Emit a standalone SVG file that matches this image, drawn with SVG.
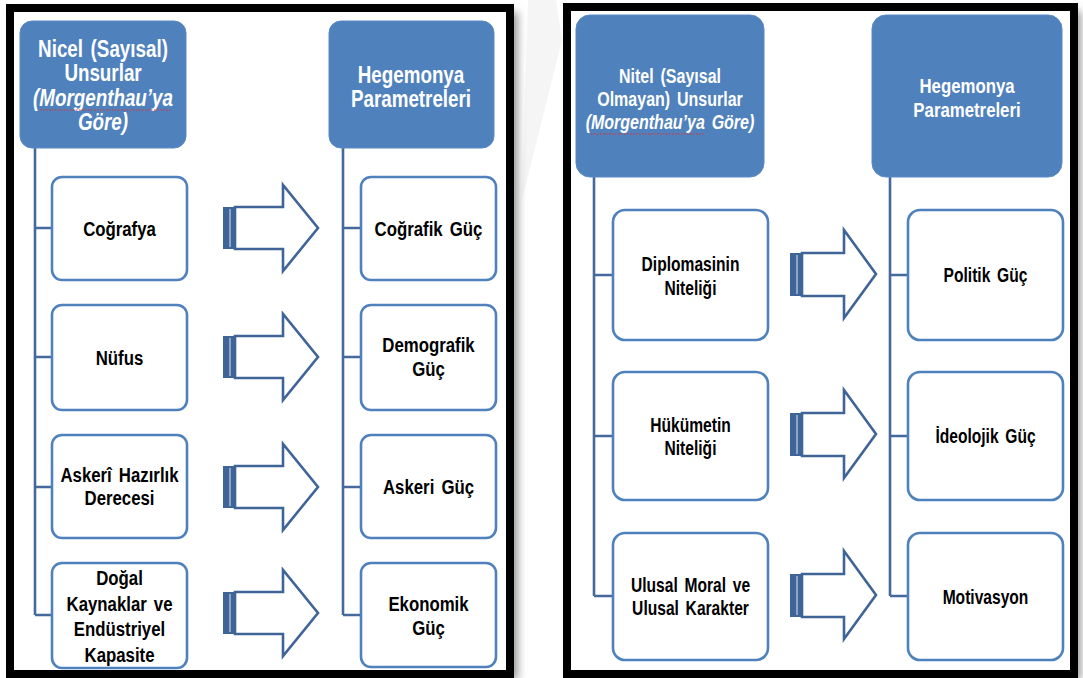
<svg xmlns="http://www.w3.org/2000/svg" width="1083" height="678" viewBox="0 0 1083 678">
<style>
.frame{fill:#fff;stroke:#000;stroke-width:8}
.hdr{fill:#4F81BD;stroke:#5A8AC4;stroke-width:1}
.box{fill:#fff;stroke:#4F81BD;stroke-width:2.6}
.ln{fill:none;stroke:#46699B;stroke-width:2.6}
.arr{fill:#fff;stroke:#3F6598;stroke-width:2.6;stroke-linejoin:miter}
.bar{fill:#3F6598}
.stripe{stroke:#A9BCD6;stroke-width:1.5}
.t{font-family:'Liberation Sans',Arial,sans-serif;font-weight:bold;text-anchor:middle;word-spacing:3px}
.w{fill:#fff}
.k{fill:#000}
.it{font-style:italic}
.sq{fill:none;stroke:#E03030;stroke-width:1;stroke-dasharray:1.5 1.5}
</style>
<defs>
<filter id="sh" x="-5%" y="-5%" width="115%" height="115%">
<feGaussianBlur stdDeviation="4"/>
</filter>
</defs>
<rect width="1083" height="678" fill="#fff"/>
<polygon points="528,0 556,0 562,40 522,200" fill="#F5F5F5"/>
<!-- shadows -->
<rect x="14" y="12" width="504" height="668" fill="#9a9a9a" filter="url(#sh)"/>
<rect x="571" y="11" width="510" height="669" fill="#9a9a9a" filter="url(#sh)"/>
<!-- frames -->
<rect class="frame" x="10" y="8" width="500" height="666"/>
<rect class="frame" x="567" y="7" width="507" height="667"/>

<g id="connectors">
<path class="ln" d="M35,148 V615 M35,228 H52 M35,357 H52 M35,487 H52 M35,615 H52"/>
<path class="ln" d="M343,148 V615 M343,228 H361 M343,357 H361 M343,487 H361 M343,615 H361"/>
<path class="ln" d="M594,177 V596 M594,275 H613 M594,436 H613 M594,596 H613"/>
<path class="ln" d="M890,177 V596 M890,275 H908 M890,436 H908 M890,596 H908"/>
<g id="arrows-left">
<g transform="translate(0,228)"><rect class="bar" x="223" y="-21" width="12" height="42"/><line class="stripe" x1="230" y1="-19" x2="230" y2="19"/><polygon class="arr" points="235,-21 283,-21 283,-43 318,0 283,43 283,21 235,21"/></g>
<g transform="translate(0,357)"><rect class="bar" x="223" y="-21" width="12" height="42"/><line class="stripe" x1="230" y1="-19" x2="230" y2="19"/><polygon class="arr" points="235,-21 283,-21 283,-43 318,0 283,43 283,21 235,21"/></g>
<g transform="translate(0,487)"><rect class="bar" x="223" y="-21" width="12" height="42"/><line class="stripe" x1="230" y1="-19" x2="230" y2="19"/><polygon class="arr" points="235,-21 283,-21 283,-43 318,0 283,43 283,21 235,21"/></g>
<g transform="translate(0,613)"><rect class="bar" x="223" y="-21" width="12" height="42"/><line class="stripe" x1="230" y1="-19" x2="230" y2="19"/><polygon class="arr" points="235,-21 283,-21 283,-43 318,0 283,43 283,21 235,21"/></g>
</g>
<g id="arrows-right">
<g transform="translate(0,274)"><rect class="bar" x="790" y="-21" width="12" height="43"/><line class="stripe" x1="797" y1="-19" x2="797" y2="20"/><polygon class="arr" points="802,-21 844,-21 844,-44 876,0 844,44 844,22 802,22"/></g>
<g transform="translate(0,434)"><rect class="bar" x="790" y="-21" width="12" height="43"/><line class="stripe" x1="797" y1="-19" x2="797" y2="20"/><polygon class="arr" points="802,-21 844,-21 844,-44 876,0 844,44 844,22 802,22"/></g>
<g transform="translate(0,595)"><rect class="bar" x="790" y="-21" width="12" height="43"/><line class="stripe" x1="797" y1="-19" x2="797" y2="20"/><polygon class="arr" points="802,-21 844,-21 844,-44 876,0 844,44 844,22 802,22"/></g>
</g>
</g>

<!-- Left panel -->
<g id="hdr-nicel">
<rect class="hdr" x="20" y="21" width="166" height="127" rx="12"/>
<text class="t w" font-size="23.5" transform="matrix(0.8 0 0 1 103 0)"><tspan x="0" y="57">Nicel (Sayısal)</tspan><tspan x="0" y="81">Unsurlar</tspan><tspan x="0" y="106" class="it">(Morgenthau’ya</tspan><tspan x="0" y="130" class="it">Göre)</tspan></text>
<path class="sq" d="M40,110 H172"/>
</g>
<g id="hdr-hegemonya-1">
<rect class="hdr" x="329" y="21" width="165" height="127" rx="12"/>
<text class="t w" font-size="23.5" transform="matrix(0.8 0 0 1 411 0)"><tspan x="0" y="83">Hegemonya</tspan><tspan x="0" y="107">Parametreleri</tspan></text>
</g>
<g id="n-cografya"><rect class="box" x="52" y="177" width="135" height="103" rx="10"/><text class="t k" font-size="21" transform="matrix(0.8 0 0 1 119.5 0)"><tspan x="0" y="236">Coğrafya</tspan></text></g>
<g id="n-nufus"><rect class="box" x="52" y="305" width="135" height="105" rx="10"/><text class="t k" font-size="21" transform="matrix(0.8 0 0 1 119.5 0)"><tspan x="0" y="365">Nüfus</tspan></text></g>
<g id="n-askeri"><rect class="box" x="52" y="435" width="135" height="103" rx="10"/><text class="t k" font-size="21" transform="matrix(0.8 0 0 1 119.5 0)"><tspan x="0" y="482">Askerî Hazırlık</tspan><tspan x="0" y="505">Derecesi</tspan></text></g>
<g id="n-dogal"><rect class="box" x="52" y="563" width="135" height="105" rx="10"/><text class="t k" font-size="21" transform="matrix(0.8 0 0 1 119.5 0)"><tspan x="0" y="585">Doğal</tspan><tspan x="0" y="611">Kaynaklar ve</tspan><tspan x="0" y="636">Endüstriyel</tspan><tspan x="0" y="662">Kapasite</tspan></text></g>
<g id="n-cografik"><rect class="box" x="361" y="177" width="135" height="103" rx="10"/><text class="t k" font-size="21" transform="matrix(0.8 0 0 1 428.5 0)"><tspan x="0" y="236">Coğrafik Güç</tspan></text></g>
<g id="n-demografik"><rect class="box" x="361" y="305" width="135" height="105" rx="10"/><text class="t k" font-size="21" transform="matrix(0.8 0 0 1 428.5 0)"><tspan x="0" y="352">Demografik</tspan><tspan x="0" y="376">Güç</tspan></text></g>
<g id="n-askerigu"><rect class="box" x="361" y="435" width="135" height="103" rx="10"/><text class="t k" font-size="21" transform="matrix(0.8 0 0 1 428.5 0)"><tspan x="0" y="494">Askeri Güç</tspan></text></g>
<g id="n-ekonomik"><rect class="box" x="361" y="563" width="135" height="104" rx="10"/><text class="t k" font-size="21" transform="matrix(0.8 0 0 1 428.5 0)"><tspan x="0" y="611">Ekonomik</tspan><tspan x="0" y="635">Güç</tspan></text></g>

<!-- Right panel -->
<g id="hdr-nitel">
<rect class="hdr" x="576" y="15" width="188" height="162" rx="14"/>
<text class="t w" font-size="20" transform="matrix(0.8 0 0 1 670 0)"><tspan x="0" y="83">Nitel (Sayısal</tspan><tspan x="0" y="106">Olmayan) Unsurlar</tspan><tspan x="0" y="129" class="it">(Morgenthau’ya Göre)</tspan></text>
<path class="sq" d="M591,134 H705"/>
</g>
<g id="hdr-hegemonya-2">
<rect class="hdr" x="872" y="15" width="190" height="162" rx="14"/>
<text class="t w" font-size="21" transform="matrix(0.8 0 0 1 967 0)"><tspan x="0" y="93">Hegemonya</tspan><tspan x="0" y="117">Parametreleri</tspan></text>
</g>
<g id="n-diplomasi"><rect class="box" x="613" y="210" width="155" height="130" rx="12"/><text class="t k" font-size="19.5" transform="matrix(0.8 0 0 1 690.5 0)"><tspan x="0" y="271">Diplomasinin</tspan><tspan x="0" y="295">Niteliği</tspan></text></g>
<g id="n-hukumet"><rect class="box" x="613" y="372" width="155" height="128" rx="12"/><text class="t k" font-size="19.5" transform="matrix(0.8 0 0 1 690.5 0)"><tspan x="0" y="432">Hükümetin</tspan><tspan x="0" y="455">Niteliği</tspan></text></g>
<g id="n-ulusal"><rect class="box" x="613" y="533" width="155" height="127" rx="12"/><text class="t k" font-size="19.5" transform="matrix(0.8 0 0 1 690.5 0)"><tspan x="0" y="592">Ulusal Moral ve</tspan><tspan x="0" y="615">Ulusal Karakter</tspan></text></g>
<g id="n-politik"><rect class="box" x="908" y="210" width="155" height="130" rx="12"/><text class="t k" font-size="19.5" transform="matrix(0.8 0 0 1 985.5 0)"><tspan x="0" y="282">Politik Güç</tspan></text></g>
<g id="n-ideolojik"><rect class="box" x="908" y="372" width="155" height="128" rx="12"/><text class="t k" font-size="19.5" transform="matrix(0.8 0 0 1 985.5 0)"><tspan x="0" y="443">İdeolojik Güç</tspan></text></g>
<g id="n-motivasyon"><rect class="box" x="908" y="533" width="155" height="127" rx="12"/><text class="t k" font-size="19.5" transform="matrix(0.8 0 0 1 985.5 0)"><tspan x="0" y="604">Motivasyon</tspan></text></g>
</svg>
